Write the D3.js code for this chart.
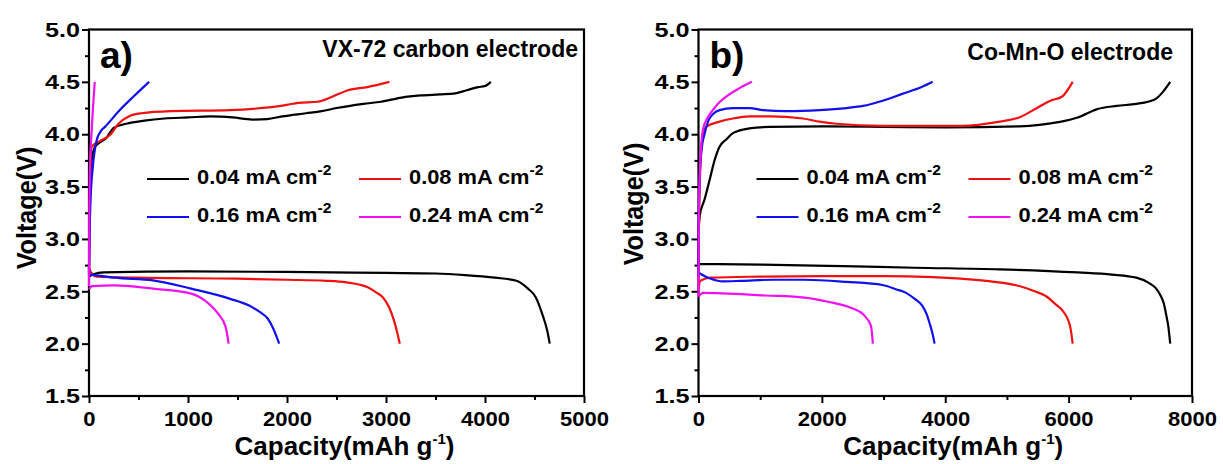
<!DOCTYPE html>
<html>
<head>
<meta charset="utf-8">
<script src="https://cdn.jsdelivr.net/npm/d3@7"></script>
<style>
body { margin: 0; background: #fff; }
svg text { font-family: "Liberation Sans", Arial, sans-serif; font-weight: bold; fill: #000; }
</style>
</head>
<body>
<svg id="chart" width="1223" height="464"></svg>
<script>
// current densities, one per series (legend order)
var rates = ["0.04", "0.08", "0.16", "0.24"];
var seriesColours = ["#000000", "#f01010", "#1010f0", "#f010f0"];

var yTicks = [1.5, 2.0, 2.5, 3.0, 3.5, 4.0, 4.5, 5.0];
var xTicksA = [0, 1000, 2000, 3000, 4000, 5000];
var xTicksB = [0, 2000, 4000, 6000, 8000];

// a) VX-72 carbon electrode, [capacity mAh/g, voltage V]
var aCharge004 = [[0,2.68],[5,3.3],[20,3.7],[60,3.88],[124,3.93],[170,3.96],[250,4.06],[375,4.10],[560,4.13],[762,4.15],[1000,4.16],[1225,4.17],[1450,4.16],[1650,4.14],[1800,4.145],[1950,4.17],[2192,4.20],[2350,4.22],[2501,4.25],[2772,4.29],[2950,4.31],[3158,4.35],[3350,4.37],[3545,4.38],[3700,4.39],[3815,4.42],[3931,4.45],[4000,4.46],[4059,4.5]];
var aDischarge004 = [[0,2.64],[40,2.66],[150,2.68],[1000,2.69],[2000,2.685],[3000,2.675],[3500,2.67],[3800,2.655],[4100,2.63],[4318,2.6],[4434,2.525],[4511,2.446],[4588,2.255],[4627,2.13],[4654,2.0]];
var aCharge008 = [[0,2.7],[8,3.3],[15,3.75],[27,3.88],[100,3.93],[220,4.0],[298,4.1],[400,4.17],[530,4.2],[839,4.22],[1419,4.23],[1998,4.28],[2114,4.30],[2308,4.31],[2462,4.36],[2617,4.42],[2810,4.45],[3034,4.5]];
var aDischarge008 = [[0,2.72],[20,2.68],[80,2.64],[500,2.63],[1500,2.62],[2000,2.61],[2400,2.6],[2600,2.585],[2810,2.54],[2900,2.49],[2965,2.446],[3030,2.35],[3081,2.22],[3115,2.1],[3139,2.0]];
var aCharge016 = [[0,2.65],[5,3.0],[15,3.35],[40,3.7],[77,3.94],[120,4.03],[162,4.07],[300,4.22],[450,4.36],[607,4.5]];
var aDischarge016 = [[0,2.66],[100,2.65],[259,2.63],[646,2.605],[1032,2.525],[1419,2.43],[1612,2.366],[1728,2.30],[1805,2.24],[1863,2.14],[1921,2.0]];
var aCharge024 = [[0,2.55],[3,3.2],[10,3.7],[25,4.0],[40,4.25],[58,4.5]];
var aDischarge024 = [[0,2.52],[30,2.55],[259,2.557],[646,2.525],[1032,2.478],[1187,2.40],[1303,2.287],[1380,2.16],[1411,2.0]];

// b) Co-Mn-O electrode
var bCharge004 = [[0,2.76],[5,3.1],[20,3.22],[100,3.38],[179,3.56],[260,3.75],[341,3.88],[450,3.95],[557,4.01],[828,4.056],[1153,4.07],[2000,4.075],[3000,4.07],[4000,4.065],[5199,4.075],[5832,4.115],[6148,4.16],[6464,4.24],[6781,4.27],[7100,4.29],[7287,4.31],[7420,4.34],[7508,4.39],[7647,4.5]];
var bDischarge004 = [[0,2.76],[1000,2.755],[2353,2.74],[3500,2.725],[4883,2.71],[6148,2.68],[6700,2.66],[7097,2.63],[7300,2.58],[7413,2.53],[7490,2.46],[7540,2.39],[7590,2.25],[7615,2.17],[7647,2.0]];
var bCharge008 = [[0,2.62],[5,3.0],[20,3.5],[50,3.9],[80,4.0],[124,4.07],[341,4.12],[557,4.15],[828,4.17],[1153,4.17],[1693,4.15],[1963,4.12],[2235,4.10],[2985,4.08],[4250,4.08],[4883,4.12],[5199,4.16],[5516,4.26],[5705,4.32],[5895,4.36],[6066,4.5]];
var bDischarge008 = [[0,2.52],[30,2.6],[200,2.63],[1000,2.64],[2000,2.645],[3000,2.645],[3800,2.635],[4250,2.62],[4800,2.59],[5199,2.55],[5450,2.5],[5642,2.45],[5800,2.37],[5895,2.32],[6022,2.17],[6066,2.0]];
var bCharge016 = [[0,2.65],[5,3.2],[20,3.6],[50,3.85],[97,4.0],[160,4.13],[232,4.19],[341,4.23],[557,4.25],[828,4.25],[1044,4.23],[1423,4.22],[1963,4.23],[2400,4.25],[2667,4.27],[2985,4.32],[3302,4.385],[3618,4.45],[3795,4.5]];
var bDischarge016 = [[0,2.68],[50,2.66],[200,2.62],[392,2.595],[700,2.6],[1200,2.61],[1720,2.61],[2400,2.59],[2985,2.56],[3200,2.52],[3365,2.485],[3500,2.43],[3618,2.37],[3700,2.28],[3744,2.2],[3800,2.08],[3827,2.0]];
var bCharge024 = [[0,2.45],[5,3.2],[20,3.6],[40,3.85],[70,4.04],[140,4.15],[232,4.23],[330,4.3],[449,4.36],[666,4.44],[866,4.5]];
var bDischarge024 = [[0,2.45],[76,2.485],[1088,2.46],[1720,2.44],[2100,2.40],[2480,2.34],[2669,2.28],[2796,2.17],[2827,2.0]];

var panels = [
    { left: 89, right: 584, xMax: 5000, xTicks: xTicksA, minorStep: 500, tag: "a)", note: "VX-72 carbon electrode", noteX: 578, noteY: 57, yTitleX: 36, yTitleY: 208,
      curves: [[aCharge004, aDischarge004], [aCharge008, aDischarge008], [aCharge016, aDischarge016], [aCharge024, aDischarge024]] },
    { left: 698.5, right: 1192, xMax: 8000, xTicks: xTicksB, minorStep: 1000, tag: "b)", note: "Co-Mn-O electrode", noteX: 1173, noteY: 60, yTitleX: 643, yTitleY: 204,
      curves: [[bCharge004, bDischarge004], [bCharge008, bDischarge008], [bCharge016, bDischarge016], [bCharge024, bDischarge024]] }
];

var plotTop = 29.5, plotBottom = 396;
var svg = d3.select("#chart");

panels.forEach(function(p) {
    var x = d3.scaleLinear().domain([0, p.xMax]).range([p.left, p.right]);
    var y = d3.scaleLinear().domain([1.5, 5.0]).range([plotBottom, plotTop]);
    var g = svg.append("g");

    //minor ticks first, then the labelled ones
    var xMinor = d3.range(0, p.xMax + 1, p.minorStep).filter(function(d) { return p.xTicks.indexOf(d) < 0; });
    var yMinor = d3.range(1.75, 5.0, 0.5);

    g.append("g").attr("transform", "translate(0," + plotBottom + ")")
        .call(d3.axisBottom(x).tickValues(xMinor).tickSize(4).tickFormat(""))
        .call(function(a) { a.select(".domain").remove(); });
    g.append("g").attr("transform", "translate(" + p.left + ",0)")
        .call(d3.axisLeft(y).tickValues(yMinor).tickSize(4).tickFormat(""))
        .call(function(a) { a.select(".domain").remove(); });

    var xAxis = g.append("g").attr("transform", "translate(0," + plotBottom + ")")
        .call(d3.axisBottom(x).tickValues(p.xTicks).tickSize(7).tickFormat(d3.format("d")));
    xAxis.select(".domain").remove();
    xAxis.selectAll("text")
        .attr("font-size", 21).attr("y", 30).attr("dy", null)
        .attr("transform", "scale(1.05,1)");

    var yAxis = g.append("g").attr("transform", "translate(" + p.left + ",0)")
        .call(d3.axisLeft(y).tickValues(yTicks).tickSize(7).tickFormat(d3.format(".1f")));
    yAxis.select(".domain").remove();
    yAxis.selectAll("text")
        .attr("font-size", 21).attr("x", -9 / 1.2)
        .attr("transform", "scale(1.2,1)");

    g.selectAll(".tick line").attr("stroke", "#000").attr("stroke-width", 2);
    g.selectAll(".tick text").attr("fill", "#000");

    //frame
    g.append("rect")
        .attr("x", p.left).attr("y", plotTop)
        .attr("width", p.right - p.left).attr("height", plotBottom - plotTop)
        .attr("fill", "none").attr("stroke", "#000").attr("stroke-width", 2.2);

    var line = d3.line()
        .x(function(d) { return x(d[0]); })
        .y(function(d) { return y(d[1]); })
        .curve(d3.curveMonotoneX);

    p.curves.forEach(function(pair, i) {
        pair.forEach(function(data) {
            g.append("path")
                .datum(data)
                .attr("d", line)
                .attr("fill", "none")
                .attr("stroke", seriesColours[i])
                .attr("stroke-width", 2.2)
                .attr("stroke-linejoin", "round");
        });
    });

    // legend, two columns
    rates.forEach(function(r, i) {
        var lx = p.left + (i % 2) * 212;
        var ly = i < 2 ? 179 : 217;
        g.append("line")
            .attr("x1", lx + 58).attr("x2", lx + 100)
            .attr("y1", ly).attr("y2", ly)
            .attr("stroke", seriesColours[i]).attr("stroke-width", 2.2);
        var t = g.append("text")
            .attr("transform", "translate(" + (lx + 108) + "," + (ly + 5) + ") scale(1.04,1)")
            .attr("font-size", 21);
        t.append("tspan").text(r + " mA cm");
        t.append("tspan").attr("font-size", 15).attr("dy", -9).text("-2");
    });

    g.append("text")
        .attr("x", p.left + 11).attr("y", 68)
        .attr("font-size", 37)
        .text(p.tag);

    g.append("text")
        .attr("x", p.noteX).attr("y", p.noteY)
        .attr("text-anchor", "end")
        .attr("font-size", 23)
        .text(p.note);

    var xt = g.append("text")
        .attr("x", (p.left + p.right) / 2 + 8).attr("y", 455)
        .attr("text-anchor", "middle")
        .attr("font-size", 26);
    xt.append("tspan").text("Capacity(mAh g");
    xt.append("tspan").attr("font-size", 15).attr("dy", -11).text("-1");
    xt.append("tspan").attr("dy", 11).text(")");

    g.append("text")
        .attr("transform", "translate(" + p.yTitleX + "," + p.yTitleY + ") rotate(-90) scale(0.9,1)")
        .attr("text-anchor", "middle")
        .attr("font-size", 28)
        .text("Voltage(V)");
});
</script>
</body>
</html>
